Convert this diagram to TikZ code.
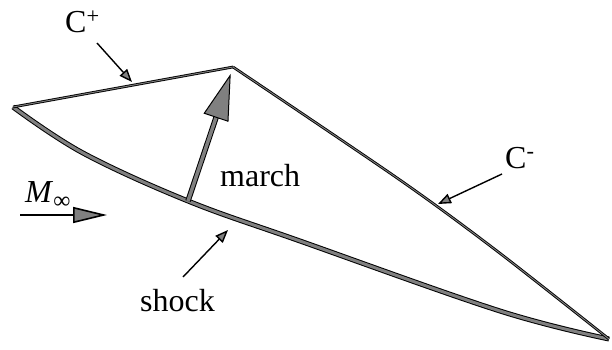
\documentclass[tikz,border=0pt]{standalone}
\usepackage{fontspec}
\setmainfont{Liberation Serif}
\usetikzlibrary{arrows.meta,calc}
\definecolor{shade}{gray}{0.5}
\tikzset{
  shockline/.style={line width=1pt, draw=black, double=shade, double distance=3pt, line join=round},
  charline/.style={line width=0.9pt, draw=black, double=shade, double distance=0.9pt, line join=round},
  pointer/.style={line width=1.4pt, draw=black, -{Triangle[length=13pt,width=10pt,fill=shade]}},
  label/.style={anchor=base west, inner sep=0pt, font=\fontsize{32}{36}\selectfont},
}
\begin{document}
\begin{tikzpicture}[x=1pt,y=-1pt]
\useasboundingbox (0,0) rectangle (612,350);
% main points
\coordinate (L) at (13,107);
\coordinate (T) at (233,67);
\coordinate (R) at (609,339);
\coordinate (B) at (188,201);
% shock
\draw[shockline] plot[smooth, tension=0.6] coordinates {(L) (83,153) (B) (300,241) (500,311) (R)};
% characteristics
\draw[charline] (L) -- (T);
\draw[charline] plot[smooth, tension=0.5] coordinates {(T) (400,180) (497,251) (R)};
% march arrow
\coordinate (H) at ($(T)!9pt!(B)$);
\coordinate (HB) at ($(H)!44pt!(B)$);
\draw[line width=1pt, draw=black, double=shade, double distance=3.5pt] (B) -- ($(HB)!-1pt!(B)$);
\draw[line width=1pt, fill=shade, line join=miter] (H) -- ($(HB)!12.5pt!90:(H)$) -- ($(HB)!12.5pt!-90:(H)$) -- cycle;
% labels
\node[label] (cplus) at (65,33) {C\textsuperscript{+}};
\node[label] (cminus) at (505,168) {C\textsuperscript{-}};
\node[label] (march) at (220,186) {march};
\node[label] (shock) at (140,311) {shock};
\node[label] (minf) at (25,202) {\textit{M}\raisebox{-6pt}{\fontsize{24}{24}\selectfont ∞}};
% pointer arrows
\coordinate (cpt) at (97,43);
\coordinate (cph) at (132,82);
\draw[pointer] (cpt) -- (cph);
\coordinate (cmt) at (502,174);
\coordinate (cmh) at (438,204);
\draw[pointer] (cmt) -- (cmh);
\coordinate (st) at (183,277);
\coordinate (sh) at (228,230);
\draw[pointer] (st) -- (sh);
\coordinate (mt) at (20,215);
\coordinate (mh) at (107,215);
\draw[line width=1.6pt, -{Triangle[length=34pt,width=16pt,fill=shade]}] (mt) -- (mh);
\end{tikzpicture}
\end{document}
